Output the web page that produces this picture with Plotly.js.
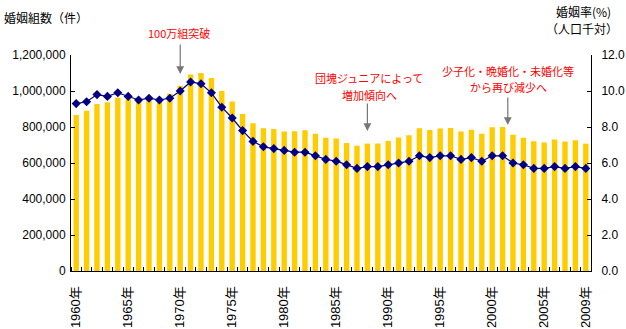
<!DOCTYPE html>
<html><head><meta charset="utf-8">
<script src="https://cdn.plot.ly/plotly-3.0.1.min.js"></script>
<style>html,body{margin:0;padding:0;background:#fff}#chart{width:626px;height:329px}</style>
</head><body><div id="chart"></div>
<script>
const years = [1960,1961,1962,1963,1964,1965,1966,1967,1968,1969,1970,1971,1972,1973,1974,1975,1976,1977,1978,1979,1980,1981,1982,1983,1984,1985,1986,1987,1988,1989,1990,1991,1992,1993,1994,1995,1996,1997,1998,1999,2000,2001,2002,2003,2004,2005,2006,2007,2008,2009];
const marriages = [866115,890158,928341,937516,963130,954852,940120,953096,956312,984142,1029405,1091229,1099984,1071923,1000455,941628,871543,821029,793257,788505,774702,776531,781252,762552,739991,735850,710962,696173,707716,708316,722138,742264,754441,792658,782738,791888,795080,775651,784595,762028,798138,799999,757331,740191,720417,714265,730971,719822,726106,707734];
const rates = [9.3,9.4,9.8,9.7,9.9,9.7,9.5,9.6,9.5,9.6,10.0,10.5,10.4,9.9,9.1,8.5,7.8,7.2,6.9,6.8,6.7,6.6,6.6,6.4,6.2,6.1,5.9,5.7,5.8,5.8,5.9,6.0,6.1,6.4,6.3,6.4,6.4,6.2,6.3,6.1,6.4,6.4,6.0,5.9,5.7,5.7,5.8,5.7,5.8,5.7];
const labelYears = [1960,1965,1970,1975,1980,1985,1990,1995,2000,2005,2009];
const labelText = labelYears.map(y => y + '年');

const FONT = 'Liberation Sans, Arial, Noto Sans CJK JP, sans-serif';
const JP = 'Noto Sans CJK JP, sans-serif';
const L = 71, R = 591, T = 55, B = 271;
const py = p => (B - p) / (B - T);
const px = p => (p - L) / (R - L);

const bars = {type:'bar', x: years, y: marriages, width: 0.52, marker:{color:'#FFCC00'}, yaxis:'y', hoverinfo:'none'};
const line = {type:'scatter', mode:'lines+markers', x: years, y: rates, yaxis:'y2',
  line:{color:'#000080', width:1.2}, marker:{symbol:'diamond', size:7, color:'#000080'}, hoverinfo:'none'};

const red = {color:'#FF0000', size:11, family:JP};
const txt = (t, x, y, font) => ({text:t, xref:'paper', yref:'paper', x:px(x), y:py(y), xanchor:'center', yanchor:'middle', showarrow:false, font:font});
const arrow = (year, tipY, tailY) => ({text:'', showarrow:true, arrowhead:2, arrowsize:1.3, arrowwidth:1.2,
  arrowcolor:'#777777', xref:'x', yref:'paper', x:year, y:py(tipY), ax:0, ay:tailY - tipY});

const layout = {
  width:626, height:329, margin:{l:L, r:626-R, t:T, b:329-B},
  paper_bgcolor:'#fff', plot_bgcolor:'#fff', showlegend:false, bargap:0.5,
  font:{family:FONT, size:12, color:'#000'},
  xaxis:{range:[1959.5, 2009.5], tickmode:'array', tickvals:labelYears, ticktext:labelText,
    tickangle:-90, ticks:'', ticklabelstandoff:9, showline:true, linecolor:'#000', linewidth:1, showgrid:false, zeroline:false,
    tickfont:{family:FONT, size:13},
    minor:{tick0:1959.5, dtick:1, ticks:'inside', ticklen:4, tickcolor:'#000', showgrid:false}},
  yaxis:{range:[0,1200000], dtick:200000, tickformat:',d', ticks:'inside', ticklen:4, tickcolor:'#000', ticklabelstandoff:2,
    showline:true, linecolor:'#000', linewidth:1, showgrid:false, zeroline:false},
  yaxis2:{range:[0,12], dtick:2, tickformat:'.1f', overlaying:'y', side:'right', ticks:'inside', ticklen:4, tickcolor:'#000', ticklabelstandoff:7,
    showline:true, linecolor:'#000', linewidth:1, showgrid:false, zeroline:false},
  annotations:[
    {text:'婚姻組数（件）', xref:'paper', yref:'paper', x:px(2), y:py(17), xanchor:'left', yanchor:'middle', showarrow:false, font:{family:JP, size:12}},
    txt('婚姻率(%)', 583, 11, {family:JP, size:12}),
    txt('（人口千対）', 582, 29, {family:JP, size:12}),
    txt('100万組突破', 179, 33, red),
    txt('団塊ジュニアによって', 369, 78, red),
    txt('増加傾向へ', 369, 94.5, red),
    txt('少子化・晩婚化・未婚化等', 508, 71, red),
    txt('から再び減少へ', 508, 87.5, red),
    arrow(1970, 74, 43),
    arrow(1988, 131, 102),
    arrow(2001.5, 125, 96)
  ]
};
Plotly.newPlot('chart', [bars, line], layout, {staticPlot:true, displayModeBar:false});
</script></body></html>
